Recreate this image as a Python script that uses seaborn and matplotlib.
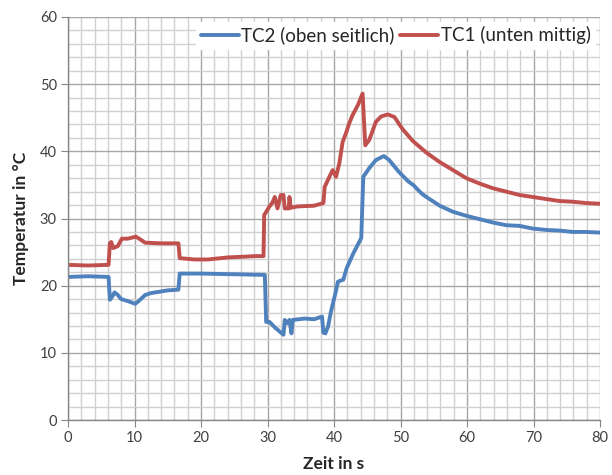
import matplotlib
matplotlib.use("Agg")
import matplotlib.pyplot as plt
import seaborn as sns
import pandas as pd
from matplotlib.ticker import MultipleLocator

# --- data ---
tc2_t = [0, 3, 6.1, 6.3, 6.6, 7.0, 7.5, 8.0, 9.0, 10.1, 10.5, 11.6, 12.5, 13.8, 15.0, 16.6,
         16.8, 20, 25, 29.6, 29.8, 30.3, 31.2, 32.4, 32.6, 33.0, 33.3, 33.6, 33.8, 35.6, 37.0,
         38.2, 38.4, 38.7, 39.1, 39.6, 40.1, 40.6, 41.4, 41.9, 42.9, 44.1, 44.4, 45.3, 46.3,
         47.5, 48.3, 49.7, 51.2, 51.9, 53.2, 53.9, 55.9, 57.9, 59.9, 61.9, 63.9, 65.9, 67.9,
         69.9, 71.9, 73.9, 75.9, 77.9, 80]
tc2_v = [21.3, 21.4, 21.3, 17.9, 18.3, 19.0, 18.6, 18.0, 17.7, 17.3, 17.6, 18.6, 18.9, 19.1,
         19.3, 19.4, 21.8, 21.8, 21.7, 21.6, 14.6, 14.6, 13.7, 12.7, 14.9, 14.4, 14.9, 12.9,
         14.9, 15.1, 15.0, 15.4, 13.0, 12.9, 13.9, 16.4, 18.4, 20.6, 20.9, 22.6, 24.8, 27.1,
         36.2, 37.5, 38.7, 39.3, 38.7, 37.0, 35.5, 35.0, 33.7, 33.2, 31.9, 31.0, 30.4, 29.9,
         29.4, 29.0, 28.9, 28.5, 28.3, 28.2, 28.0, 28.0, 27.9]

tc1_t = [0, 3, 6.1, 6.3, 6.5, 6.8, 7.5, 8.1, 9, 10.2, 11.0, 11.6, 14, 16.6, 16.8, 19, 21, 24,
         28.2, 29.4, 29.5, 30.3, 30.7, 31.1, 31.5, 32.0, 32.4, 32.6, 33.2, 33.3, 33.5, 34.5,
         37, 38.4, 38.6, 39.3, 39.8, 40.3, 40.8, 41.3, 41.8, 42.3, 42.8, 43.6, 44.3, 44.7,
         45.3, 46.3, 47.1, 48.1, 49.1, 49.9, 50.4, 51.9, 53.9, 55.9, 57.9, 59.9, 61.9, 63.9,
         65.9, 67.9, 69.9, 71.9, 73.9, 75.9, 77.9, 80]
tc1_v = [23.1, 23.0, 23.1, 26.3, 26.5, 25.6, 25.9, 27.0, 27.0, 27.3, 26.8, 26.4, 26.3, 26.3,
         24.1, 23.9, 23.9, 24.2, 24.4, 24.4, 30.5, 31.8, 32.3, 33.2, 31.5, 33.5, 33.5, 31.5,
         31.5, 33.2, 31.6, 31.8, 31.9, 32.3, 34.7, 36.2, 37.2, 36.2, 38.2, 41.4, 42.7, 44.2,
         45.4, 46.9, 48.6, 40.9, 41.7, 44.4, 45.2, 45.5, 45.1, 43.9, 43.2, 41.5, 39.8, 38.4,
         37.2, 36.0, 35.2, 34.5, 34.0, 33.5, 33.2, 32.9, 32.6, 32.5, 32.3, 32.2]

series_names = ["TC2 (oben seitlich)", "TC1 (unten mittig)"]
series_colors = ["#4F81BD", "#C0504D"]

df = pd.concat([
    pd.DataFrame({"t": tc2_t, "T": tc2_v, "s": series_names[0]}),
    pd.DataFrame({"t": tc1_t, "T": tc1_v, "s": series_names[1]}),
], ignore_index=True)

sns.set_style("white")
plt.rcParams['font.family'] = ['Lato', 'DejaVu Sans']

fig = plt.figure(figsize=(6.12, 4.75), dpi=100)
ax = fig.add_axes([68/612, 1-420/475, (600-68)/612, (420-17)/475])

sns.lineplot(data=df, x="t", y="T", hue="s", hue_order=series_names,
             palette=series_colors, sort=False, estimator=None, lw=2.8, ax=ax)

ax.set_xlim(0, 80)
ax.set_ylim(0, 60)
ax.xaxis.set_major_locator(MultipleLocator(10))
ax.xaxis.set_minor_locator(MultipleLocator(2))
ax.yaxis.set_major_locator(MultipleLocator(10))
ax.yaxis.set_minor_locator(MultipleLocator(2))
ax.grid(which="minor", color="#d0d0d0", lw=1.0)
ax.grid(which="major", color="#a6a6a6", lw=1.0)
ax.set_axisbelow(True)

for s in ["top", "right"]:
    ax.spines[s].set_visible(False)
for s in ["left", "bottom"]:
    ax.spines[s].set_color("#868686")
    ax.spines[s].set_linewidth(1.0)
ax.tick_params(which="major", direction="out", length=5, color="#868686",
               labelsize=10.5, labelcolor="#404040", left=True, bottom=True, pad=3)
ax.tick_params(which="minor", length=0)

ax.set_xlabel("Zeit in s", fontsize=12.5, fontweight="bold", labelpad=8)
ax.set_ylabel("Temperatur in °C", fontsize=12.5, fontweight="bold", labelpad=8)

leg = ax.legend(loc="upper right", ncol=2, frameon=True, fontsize=13.5,
                handlelength=2.0, handletextpad=0.15, columnspacing=0.3,
                borderaxespad=0.25, fancybox=False, borderpad=0.25)
leg.get_frame().set_facecolor("white")
leg.get_frame().set_edgecolor("white")
leg.get_frame().set_alpha(1.0)

fig.savefig("out.png", dpi=100)
